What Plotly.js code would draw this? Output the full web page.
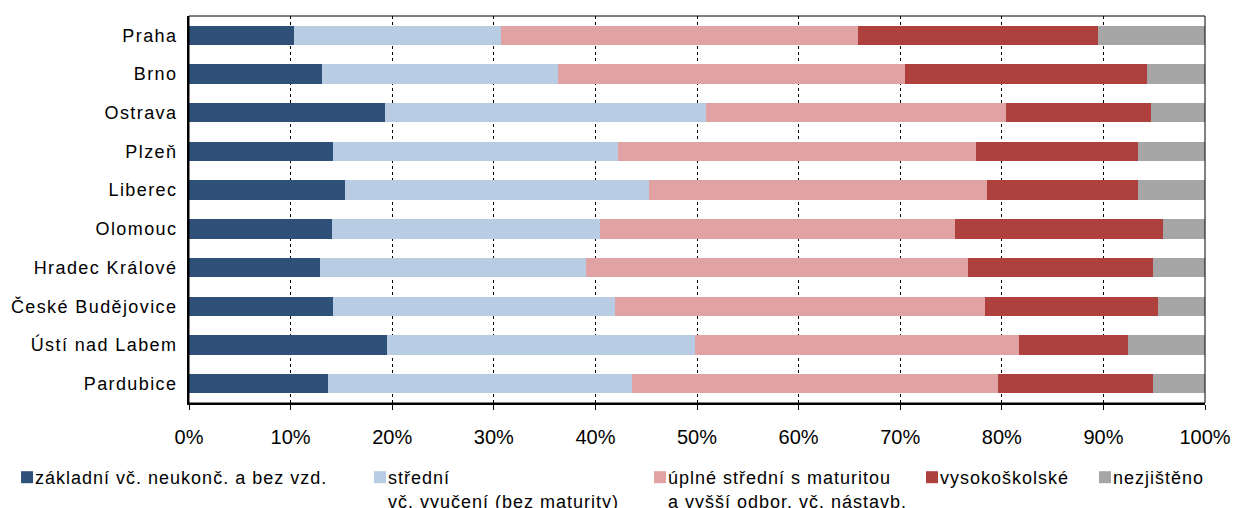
<!DOCTYPE html>
<html>
<head>
<meta charset="utf-8">
<script src="https://cdn.plot.ly/plotly-3.0.1.min.js"></script>
<style>
html,body{margin:0;padding:0;background:#fff;}
#chart{width:1236px;height:508px;}
.ytick text{letter-spacing:1.4px;}
.legendtext,.legend2text,.legend3text,.legend4text,.legend5text{letter-spacing:1px;transform:translateX(-12px);}
</style>
</head>
<body>
<div id="chart"></div>
<script>
// Categories (top to bottom)
const cities = ["Praha","Brno","Ostrava","Plzeň","Liberec","Olomouc","Hradec Králové","České Budějovice","Ústí nad Labem","Pardubice"];

// Shares in %
const zakladni   = [10.3, 13.1, 19.3, 14.2, 15.4, 14.1, 12.9, 14.2, 19.5, 13.7];
const stredni    = [20.4, 23.2, 31.6, 28.0, 29.9, 26.4, 26.2, 27.7, 30.3, 29.9];
const uplne      = [35.1, 34.2, 29.5, 35.3, 33.2, 34.9, 37.6, 36.4, 31.9, 36.0];
const vysoko     = [23.7, 23.8, 14.3, 15.9, 14.9, 20.5, 18.2, 17.1, 10.7, 15.3];
const nezjisteno = [10.5,  5.7,  5.3,  6.6,  6.6,  4.1,  5.1,  4.6,  7.6,  5.1];

// Series names and colours
const seriesNames = [
  "základní vč. neukonč. a bez vzd.",
  "střední<br>vč. vyučení (bez maturity)",
  "úplné střední s maturitou<br>a vyšší odbor. vč. nástavb.",
  "vysokoškolské",
  "nezjištěno"
];
const seriesColors = ["#2F5079", "#B8CCE4", "#E0A2A2", "#AE403E", "#A6A6A6"];
const seriesValues = [zakladni, stredni, uplne, vysoko, nezjisteno];

// x tick values
const xTicks = [0,10,20,30,40,50,60,70,80,90,100];

const FONT = "Liberation Sans, Arial, sans-serif";
const legendIds = ["legend","legend2","legend3","legend4","legend5"];
const legendX = [-0.1791, 0.1683, 0.4439, 0.7116, 0.8819];

const traces = seriesValues.map((vals, i) => ({
  type: "bar",
  orientation: "h",
  y: cities,
  x: vals,
  name: seriesNames[i],
  marker: {color: seriesColors[i], line: {width: 0}},
  legend: legendIds[i],
  hoverinfo: "x+y+name"
}));

const layout = {
  width: 1236,
  height: 508,
  margin: {l: 189, r: 31, t: 16, b: 105, autoexpand: false},
  paper_bgcolor: "#fff",
  plot_bgcolor: "#fff",
  barmode: "stack",
  bargap: 0.5,
  font: {family: FONT, size: 18, color: "#000"},
  xaxis: {
    range: [0, 100],
    tickvals: xTicks,
    ticktext: xTicks.map(v => v + "%"),
    showgrid: true,
    gridcolor: "#000",
    gridwidth: 1,
    griddash: "dot",
    zeroline: false,
    showline: true,
    linecolor: "#000",
    linewidth: 2,
    ticks: "outside",
    ticklen: 5,
    tickwidth: 1,
    tickcolor: "#000",
    ticklabelstandoff: 10,
    tickfont: {family: FONT, size: 20, color: "#000"},
    fixedrange: true
  },
  yaxis: {
    type: "category",
    autorange: "reversed",
    showgrid: false,
    zeroline: false,
    showline: true,
    linecolor: "#000",
    linewidth: 2,
    ticks: "",
    ticklabelstandoff: 6,
    tickfont: {family: FONT, size: 18, color: "#000"},
    fixedrange: true
  },
  shapes: [{
    type: "rect", xref: "paper", yref: "paper",
    x0: 0, x1: 1, y0: 0, y1: 1,
    line: {color: "#000", width: 1},
    layer: "above"
  }],
  showlegend: true
};

legendIds.forEach((id, i) => {
  layout[id] = {
    x: legendX[i],
    xanchor: "left",
    y: -0.1447,
    yanchor: "top",
    orientation: "v",
    valign: "top",
    bgcolor: "rgba(0,0,0,0)",
    borderwidth: 0,
    font: {family: FONT, size: 18, color: "#000"},
    itemclick: false,
    itemdoubleclick: false
  };
});

Plotly.newPlot("chart", traces, layout, {displayModeBar: false, staticPlot: true});
</script>
</body>
</html>
